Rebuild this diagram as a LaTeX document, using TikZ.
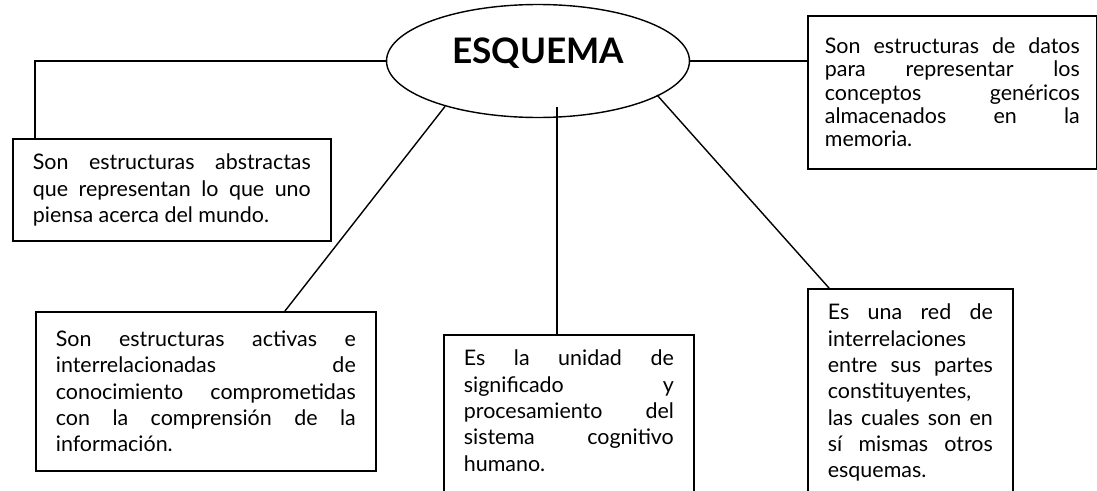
\documentclass[tikz,border=0pt]{standalone}
\usepackage{fontspec}
\setmainfont{Lato}
\usetikzlibrary{shapes.geometric}
\hyphenpenalty=10000
\exhyphenpenalty=10000
\tolerance=10000
\begin{document}
\begin{tikzpicture}[x=0.02cm,y=-0.02cm,
    idea/.style={draw,line width=1pt,anchor=north west,inner xsep=0.4cm,inner ysep=0.3cm,
      align=justify,font=\fontsize{12.2}{15}\selectfont},
    enlace/.style={line width=0.8pt}]
    \useasboundingbox (0,0) rectangle (1097,490);
    \clip (0,0) rectangle (1097,490);
    \node [ellipse,draw,line width=0.8pt,minimum width=6.06cm,minimum height=2.26cm,inner sep=0pt,
      font=\fontsize{20}{20}\selectfont\bfseries,text depth=12pt] (esquema) at (538,61) {ESQUEMA};
    \node [idea,text width=5.56cm,minimum height=2.04cm] (tl) at (12,138)
      {Son estructuras abstractas\linebreak que representan lo que uno\linebreak piensa acerca del mundo.};
    \node [idea,text width=5.1cm,inner xsep=0.34cm,minimum height=3.06cm,
      font=\fontsize{12.2}{13.2}\selectfont] (tr) at (807,15)
      {Son estructuras de datos\linebreak para representar los\linebreak conceptos genéricos\linebreak almacenados en la\linebreak memoria.};
    \node [idea,text width=6cm,minimum height=3.18cm] (bl) at (35,311)
      {Son estructuras activas e\linebreak interrelacionadas de\linebreak conocimiento comprometidas\linebreak con la comprensión de la\linebreak información.};
    \node [idea,text width=4.2cm,text depth=4cm] (mid) at (443,334)
      {Es la unidad de\linebreak significado y\linebreak procesamiento del\linebreak sistema cognitivo\linebreak humano.};
    \node [idea,text width=3.3cm,text depth=4cm] (br) at (807,288)
      {Es una red de\linebreak interrelaciones\linebreak entre sus partes\linebreak constituyentes,\linebreak las cuales son en\linebreak sí mismas otros\linebreak esquemas.};
    \coordinate (m) at ([xshift=0.38cm,yshift=0.22cm]esquema.south);
    \draw [enlace] (esquema.west) -| ([xshift=0.46cm]tl.north west);
    \draw [enlace] (esquema.east) -- (esquema.east -| tr.west);
    \draw [enlace] (esquema.206) -- ([xshift=5cm]bl.north west);
    \draw [enlace] (m) -- (m |- mid.north);
    \draw [enlace] ([shift={(2.38cm,-0.68cm)}]esquema.center) -- ([xshift=0.44cm]br.north west);
  \end{tikzpicture}
\end{document}
